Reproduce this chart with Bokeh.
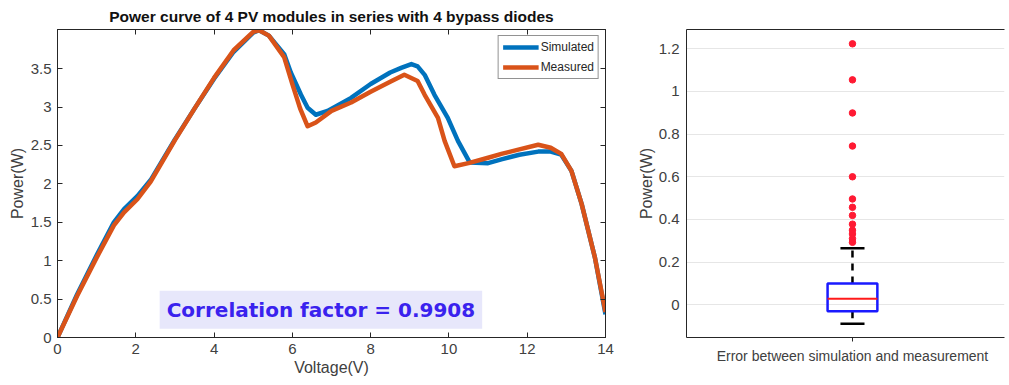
from bokeh.plotting import figure
from bokeh.layouts import row
from bokeh.models import (Range1d, FixedTicker, LinearAxis, Label, Legend, LegendItem)
from bokeh.embed import file_html
from bokeh.resources import INLINE

# ---------------- data ----------------
voltage_sim = [0, 0.5, 1, 1.44, 1.7, 2.04, 2.38, 3, 3.5, 4, 4.5, 5, 5.15, 5.4, 5.79, 5.96,
               6.22, 6.39, 6.6, 6.9, 7.5, 8, 8.5, 8.78, 9.04, 9.2, 9.38, 9.63, 9.97, 10.23,
               10.53, 11, 11.34, 11.8, 12.28, 12.6, 12.87, 13.13, 13.39, 13.73, 14]
power_sim = [0, 0.56, 1.07, 1.5, 1.67, 1.84, 2.05, 2.58, 2.98, 3.37, 3.72, 3.97, 4.0, 3.93,
             3.69, 3.45, 3.16, 2.99, 2.9, 2.95, 3.12, 3.3, 3.45, 3.51, 3.56, 3.53, 3.42,
             3.16, 2.86, 2.56, 2.28, 2.27, 2.32, 2.38, 2.42, 2.42, 2.38, 2.17, 1.74, 1.04,
             0.3]

voltage_meas = [0, 0.5, 1, 1.44, 1.7, 2.04, 2.38, 3, 3.5, 4, 4.5, 5, 5.15, 5.4, 5.79, 6.0,
                6.2, 6.39, 6.6, 7, 7.5, 8, 8.5, 8.86, 9.2, 9.38, 9.72, 9.89, 10.14, 10.5,
                11, 11.34, 11.8, 12.28, 12.6, 12.87, 13.13, 13.39, 13.73, 14]
power_meas = [0, 0.54, 1.04, 1.46, 1.63, 1.8, 2.03, 2.57, 2.98, 3.38, 3.74, 3.98, 4.0, 3.93,
              3.65, 3.3, 2.98, 2.75, 2.8, 2.95, 3.06, 3.2, 3.33, 3.42, 3.34, 3.16, 2.86,
              2.56, 2.23, 2.27, 2.34, 2.39, 2.45, 2.51, 2.47, 2.39, 2.17, 1.74, 1.04, 0.33]

# box plot statistics of error (W)
box_q1 = -0.03
box_median = 0.028
box_q3 = 0.1
whisker_low = -0.088
whisker_high = 0.265
outliers = [1.223, 1.054, 0.899, 0.744, 0.6, 0.496, 0.457, 0.419, 0.378, 0.35, 0.332, 0.31, 0.293]

left_yticks = [0, 0.5, 1, 1.5, 2, 2.5, 3, 3.5]
left_ytick_labels = ["0", "0.5", "1", "1.5", "2", "2.5", "3", "3.5"]
left_xticks = [0, 2, 4, 6, 8, 10, 12, 14]
right_yticks = [0, 0.2, 0.4, 0.6, 0.8, 1.0, 1.2]
right_ytick_labels = ["0", "0.2", "0.4", "0.6", "0.8", "1", "1.2"]
category_label = "Error between simulation and measurement"

# ---------------- styles ----------------
FONT = "Liberation Sans"
AXC = "#262626"
LBL = "#404040"
BLUE = "#0072BD"
ORANGE = "#D95319"


def style_axis(ax, show_labels=True):
    ax.axis_line_color = AXC
    ax.major_tick_line_color = AXC
    ax.minor_tick_line_color = None
    ax.major_tick_in = 5
    ax.major_tick_out = 0
    ax.major_label_text_font = FONT
    ax.major_label_text_font_size = "15px"
    ax.major_label_text_color = LBL if show_labels else None
    ax.axis_label_text_font = FONT
    ax.axis_label_text_font_size = "16px"
    ax.axis_label_text_font_style = "normal"
    ax.axis_label_text_color = LBL


# ---------------- left plot ----------------
p1 = figure(width=620, height=383, output_backend="svg", toolbar_location=None,
            x_range=Range1d(0, 14), y_range=Range1d(0, 4.01),
            min_border_left=57, min_border_right=15, min_border_top=0, min_border_bottom=46)
p1.title.text = "Power curve of 4 PV modules in series with 4 bypass diodes"
p1.title.align = "center"
p1.title.text_font = FONT
p1.title.text_font_size = "15.5px"
p1.title.text_font_style = "bold"
p1.title.text_color = "#111111"
p1.outline_line_color = AXC
p1.grid.visible = False

r_sim = p1.line(voltage_sim, power_sim, line_color=BLUE, line_width=4.5, line_join="round")
r_meas = p1.line(voltage_meas, power_meas, line_color=ORANGE, line_width=4.5,
                 line_join="round")

p1.xaxis.ticker = FixedTicker(ticks=left_xticks)
p1.yaxis.ticker = FixedTicker(ticks=left_yticks)
p1.yaxis.major_label_overrides = dict(zip(left_yticks, left_ytick_labels))
p1.xaxis.axis_label = "Voltage(V)"
p1.yaxis.axis_label = "Power(W)"
style_axis(p1.xaxis[0])
style_axis(p1.yaxis[0])
p1.xaxis.major_label_standoff = 6
p1.xaxis.axis_label_standoff = 2
p1.yaxis.major_label_standoff = 6
p1.yaxis.axis_label_standoff = 2

top1 = LinearAxis(ticker=FixedTicker(ticks=left_xticks))
right1 = LinearAxis(ticker=FixedTicker(ticks=left_yticks))
style_axis(top1, False)
style_axis(right1, False)
top1.major_label_text_font_size = "1px"
right1.major_label_text_font_size = "1px"
top1.major_label_standoff = 0
right1.major_label_standoff = 0
p1.add_layout(top1, "above")
p1.add_layout(right1, "right")

legend = Legend(items=[LegendItem(label="Simulated", renderers=[r_sim]),
                       LegendItem(label="Measured", renderers=[r_meas])],
                location="top_right")
legend.label_text_font = FONT
legend.label_text_font_size = "12px"
legend.label_text_color = "#262626"
legend.border_line_color = "#262626"
legend.border_line_width = 1
legend.glyph_width = 36
legend.glyph_height = 14
legend.label_standoff = 2
legend.spacing = 6
legend.padding = 4
legend.margin = 6
legend.label_height = 14
p1.add_layout(legend)

corr = Label(x=6.73, y=0.36, text="Correlation factor = 0.9908",
             text_align="center", text_baseline="middle",
             text_font="DejaVu Sans", text_font_size="20px", text_font_style="bold",
             text_color="#3a22ee", background_fill_color="#e4e4fb",
             background_fill_alpha=0.9, padding=7)
p1.add_layout(corr)

# ---------------- right plot ----------------
p2 = figure(width=386, height=383, output_backend="svg", toolbar_location=None,
            x_range=Range1d(0, 1.916), y_range=Range1d(-0.153, 1.29),
            min_border_left=66, min_border_right=2, min_border_top=20, min_border_bottom=44)
p2.outline_line_color = None
p2.xgrid.visible = False
p2.ygrid.grid_line_color = "#e6e6e6"
p2.ygrid.ticker = FixedTicker(ticks=right_yticks)

p2.yaxis.ticker = FixedTicker(ticks=right_yticks)
p2.yaxis.major_label_overrides = dict(zip(right_yticks, right_ytick_labels))
p2.yaxis.axis_label = "Power(W)"
p2.xaxis.ticker = FixedTicker(ticks=[1])
p2.xaxis.major_label_overrides = {1: category_label}
style_axis(p2.xaxis[0])
style_axis(p2.yaxis[0])
p2.xaxis.major_label_text_font_size = "14px"
p2.xaxis.major_tick_in = 0
p2.xaxis.major_tick_out = 4
p2.xaxis.major_label_standoff = 6
p2.yaxis.major_tick_in = 0
p2.yaxis.major_tick_out = 0
p2.yaxis.major_label_standoff = 7
p2.yaxis.axis_label_standoff = 1
top2 = LinearAxis(ticker=FixedTicker(ticks=[]))
style_axis(top2, False)
top2.major_label_text_font_size = "1px"
p2.add_layout(top2, "above")

cx = 1.0
bw = 0.3
cw = 0.145
# whiskers
p2.segment(x0=[cx, cx], y0=[box_q3, box_q1], x1=[cx, cx], y1=[whisker_high, whisker_low],
           line_color="black", line_width=2.5, line_dash="7 6")
p2.segment(x0=[cx - cw / 2, cx - cw / 2], y0=[whisker_high, whisker_low],
           x1=[cx + cw / 2, cx + cw / 2], y1=[whisker_high, whisker_low],
           line_color="black", line_width=2.5)
# box
p2.quad(left=[cx - bw / 2], right=[cx + bw / 2], bottom=[box_q1], top=[box_q3],
        fill_color=None, line_color="#1a1aff", line_width=2.5)
p2.segment(x0=[cx - bw / 2], y0=[box_median], x1=[cx + bw / 2], y1=[box_median],
           line_color="#ff1a1a", line_width=2)
# outliers
p2.scatter([cx] * len(outliers), outliers, size=6.5, marker="circle",
           fill_color="#ff1a33", line_color="#ff1a33")

layout = row(p1, p2, spacing=0)
open("out.html", "w").write(file_html(layout, INLINE))
